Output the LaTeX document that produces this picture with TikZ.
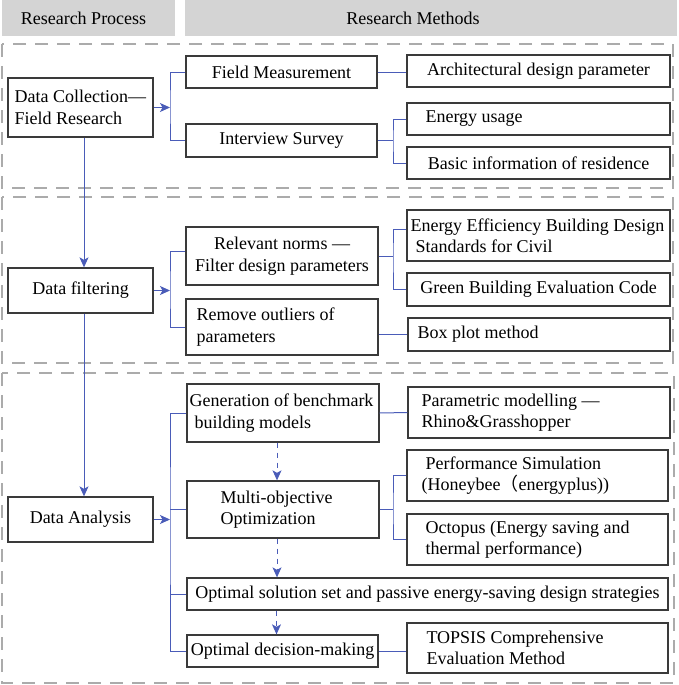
\documentclass[tikz,border=0pt]{standalone}
\usepackage{fontspec}
\setmainfont{Liberation Serif}
\newfontfamily\cjk{Noto Sans CJK SC}
\usetikzlibrary{calc,arrows.meta}
\definecolor{hdrgray}{HTML}{D4D4D4}
\definecolor{dashgray}{HTML}{ABABAB}
\definecolor{conblue}{HTML}{4A5CB8}
\definecolor{boxline}{HTML}{3A3A3A}
\tikzset{
  box/.style={draw=boxline, line width=1.3pt, inner sep=0pt, align=center},
  txt/.style={inner sep=0pt, align=left, anchor=west},
  hdr/.style={fill=hdrgray, inner sep=0pt},
  sect/.style={draw=dashgray, line width=2.2pt, dash pattern=on 13pt off 9pt},
  con/.style={draw=conblue, line width=1pt},
  arr/.style={con, -{Stealth[length=10pt,width=9pt,inset=2.5pt]}},
  darr/.style={con, dash pattern=on 5pt off 5pt, -{Stealth[length=10pt,width=9pt,inset=2.5pt]}},
}
\begin{document}
\begin{tikzpicture}[x=1pt,y=-1pt,font=\fontsize{18}{21.5}\selectfont]
\useasboundingbox (0,0) rectangle (679,685);
% headers
\node[hdr, minimum width=173pt, minimum height=36pt] (HL) at (88.5,18) {};
\node[hdr, minimum width=492pt, minimum height=36pt] (HR) at (431,18) {};
\node[inner sep=0pt] (HLt) at (83.5,18) {Research Process};
\node[inner sep=0pt] (HRt) at (413,18) {Research Methods};
% sections
\draw[sect] (2,44) rectangle (673,188);
\draw[sect] (2,197) rectangle (673,363);
\draw[sect] (2,373) rectangle (674,683);
% ---- section 1
\node[box, minimum width=145pt, minimum height=59pt] (A1) at (80.5,107.5) {};
\node[txt] (A1t) at ($(A1.west)+(7,0)$) {Data Collection—\\Field Research};
\node[box, minimum width=191pt, minimum height=32pt] (B1) at (281.5,72) {Field Measurement};
\node[box, minimum width=191pt, minimum height=33pt] (B2) at (281.5,140.5) {Interview Survey};
\node[box, minimum width=263pt, minimum height=32pt] (C1) at (538.5,71) {Architectural design parameter};
\node[box, minimum width=263pt, minimum height=32pt] (C2) at (538.5,119) {};
\node[txt] (C2t) at ($(C2.west)+(19,0)$) {Energy usage};
\node[box, minimum width=263pt, minimum height=32pt] (C3) at (538.5,163) {Basic information of residence};
% ---- section 2
\node[box, minimum width=145pt, minimum height=45pt] (A2) at (80.5,290.5) {Data filtering};
\node[box, minimum width=192pt, minimum height=58pt] (B3) at (282,256) {Relevant norms —\\Filter design parameters};
\node[box, minimum width=192pt, minimum height=56pt] (B4) at (282,327) {};
\node[txt] (B4t) at ($(B4.west)+(11,0)$) {Remove outliers of\\parameters};
\node[box, minimum width=263pt, minimum height=51pt] (C4) at (538.5,235.5) {};
\node[txt] (C4t) at ($(C4.west)+(4,0)$) {Energy Efficiency Building Design\\\hspace*{5pt}Standards for Civil};
\node[box, minimum width=263pt, minimum height=33pt] (C5) at (538.5,289.5) {Green Building Evaluation Code};
\node[box, minimum width=262pt, minimum height=33pt] (C6) at (539,334.5) {};
\node[txt] (C6t) at ($(C6.west)+(10,0)$) {Box plot method};
% ---- section 3
\node[box, minimum width=145pt, minimum height=45pt] (A3) at (80.5,519.5) {Data Analysis};
\node[box, minimum width=192pt, minimum height=58pt] (B5) at (283,413) {};
\node[txt] (B5t) at ($(B5.west)+(3,0)$) {Generation of benchmark\\\hspace*{5pt}building models};
\node[box, minimum width=192pt, minimum height=57pt] (B6) at (283,509.5) {};
\node[txt] (B6t) at ($(B6.west)+(34,0)$) {Multi-objective\\Optimization};
\node[box, minimum width=481pt, minimum height=32pt] (B7) at (427.5,594) {Optimal solution set and passive energy-saving design strategies};
\node[box, minimum width=191pt, minimum height=32pt] (B8) at (282.5,651) {Optimal decision-making};
\node[box, minimum width=262pt, minimum height=51pt] (C7) at (539,412.5) {};
\node[txt] (C7t) at ($(C7.west)+(14,0)$) {Parametric modelling —\\Rhino\&Grasshopper};
\node[box, minimum width=261pt, minimum height=51pt] (C8) at (537.5,475.5) {};
\node[txt] (C8t) at ($(C8.west)+(15,0)$) {\hspace*{4pt}Performance Simulation\\(Honeybee{\cjk （}energyplus))};
\node[box, minimum width=261pt, minimum height=51pt] (C9) at (537.5,539.5) {};
\node[txt] (C9t) at ($(C9.west)+(19,0)$) {Octopus (Energy saving and\\thermal performance)};
\node[box, minimum width=261pt, minimum height=50pt] (C10) at (537.5,648) {};
\node[txt] (C10t) at ($(C10.west)+(20,0)$) {TOPSIS Comprehensive\\Evaluation Method};
% ---- connectors section 1
\coordinate (j1) at (170,107.5);
\draw[arr] (A1.east) -- (j1);
\draw[con] (B1.west) -| (j1) |- (B2.west);
\draw[con] (B1.east) -- (B1.east -| C1.west);
\coordinate (j2) at (393,140.5);
\draw[con] (B2.east) -- (j2);
\draw[con] (C2.west) -| (j2) |- (C3.west);
\coordinate (v1) at ($(A1.south)+(3.5,0)$);
\coordinate (v2) at ($(A2.north)+(3.5,0)$);
\draw[arr] (v1) -- (v2);
% ---- connectors section 2
\coordinate (j3) at (170,290.5);
\draw[arr] (A2.east) -- (j3);
\draw[con] ($(B3.west)+(0,-5)$) -| (j3) |- (B4.west);
\coordinate (j4) at (393,256);
\draw[con] (B3.east) -- (j4);
\draw[con] ($(C4.west)+(0,-6.5)$) -| (j4) |- (C5.west);
\draw[con] (B4.east |- C6.west) -- (C6.west);
\coordinate (v3) at ($(A2.south)+(3.5,0)$);
\coordinate (v4) at ($(A3.north)+(3.5,0)$);
\draw[arr] (v3) -- (v4);
% ---- connectors section 3
\coordinate (j5) at (170,519.5);
\draw[arr] (A3.east) -- (j5);
\draw[con] (B5.west) -| (j5) |- (B8.west);
\draw[con] (B6.west) -- (B6.west -| j5);
\draw[con] (B7.west) -- (B7.west -| j5);
\draw[con] (B5.east) -- (C7.west);
\coordinate (j6) at (393,509.5);
\draw[con] (B6.east) -- (j6);
\draw[con] (C8.west) -| (j6) |- (C9.west);
\draw[con] (B8.east) -- (B8.east -| C10.west);
\coordinate (d0) at ($(B5.south)+(-6,0)$);
\coordinate (d1) at ($(B6.south)+(-6,0)$);
\coordinate (d2) at ($(B8.north)+(-6,0)$);
\draw[darr] (d0) -- (d0 |- B6.north);
\draw[darr] (d1) -- (d1 |- B7.north);
\draw[darr] (d2 |- B7.south) -- (d2);
\end{tikzpicture}
\end{document}
